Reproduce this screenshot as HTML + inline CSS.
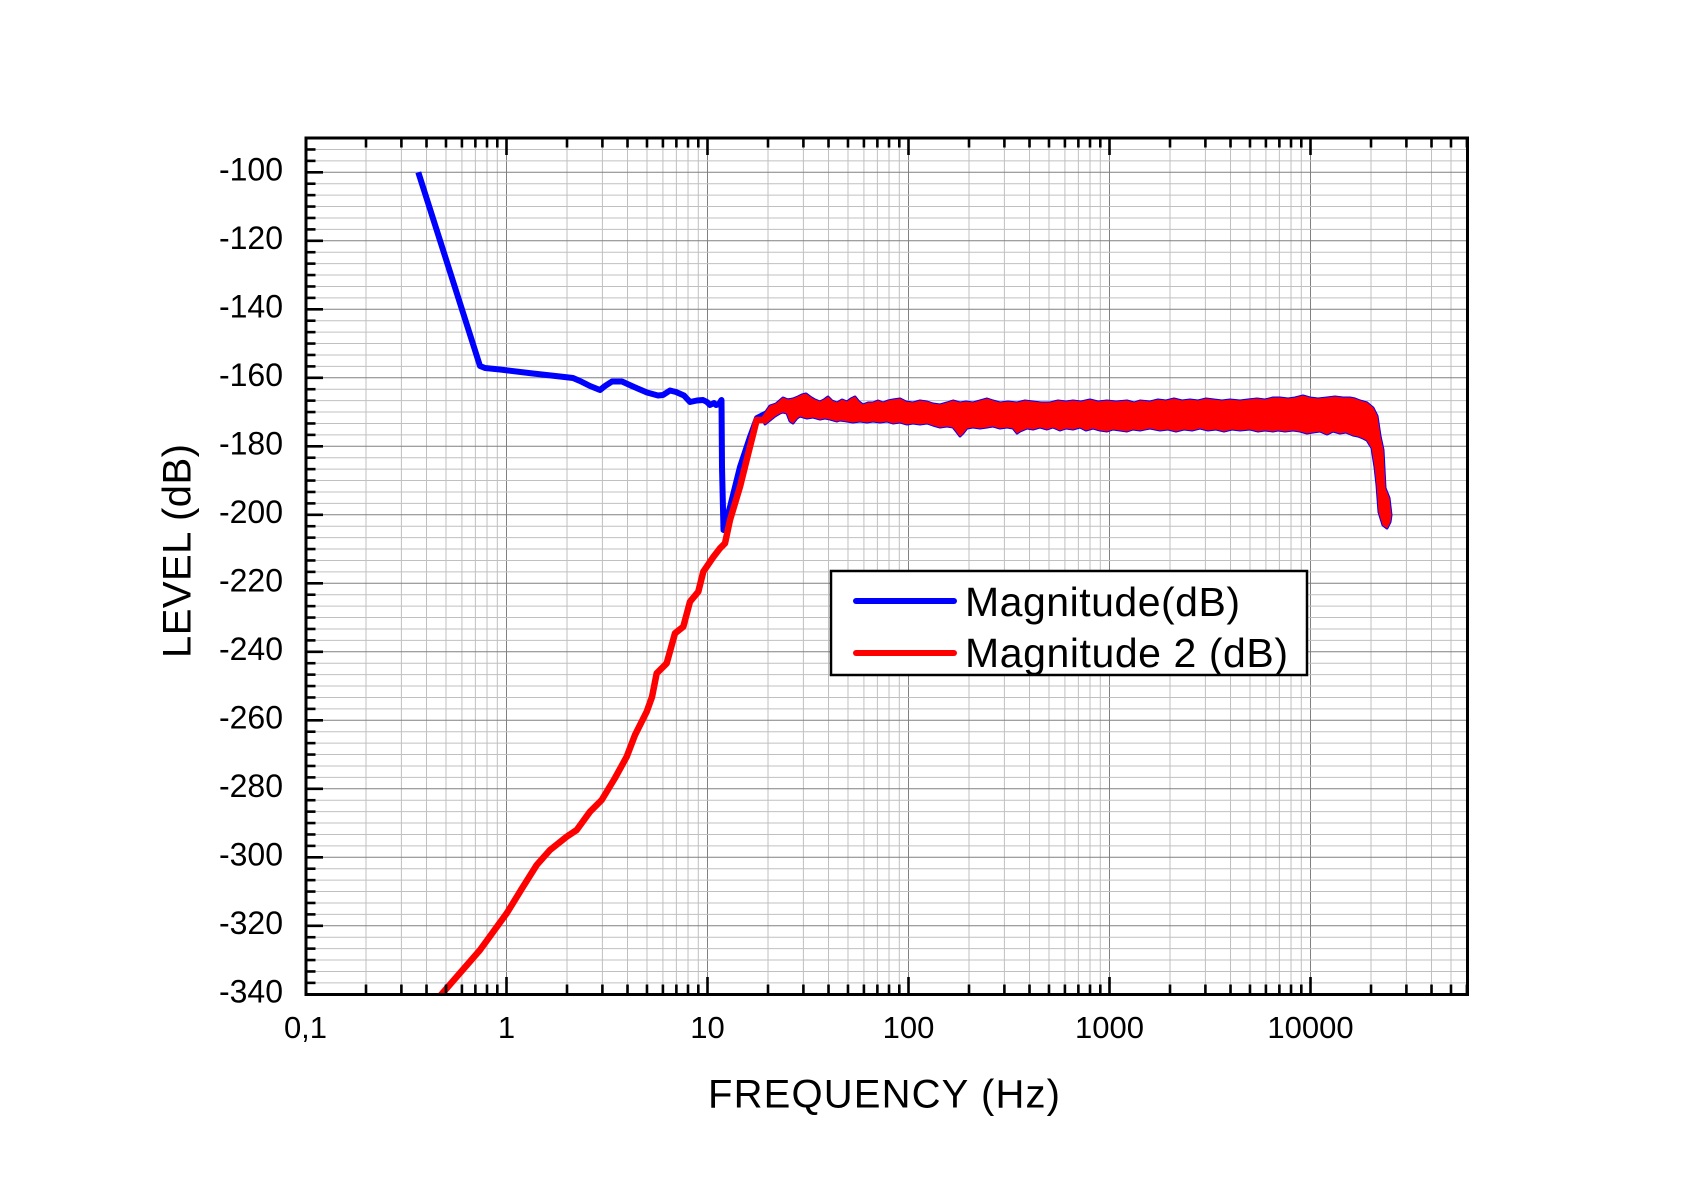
<!DOCTYPE html>
<html>
<head>
<meta charset="utf-8">
<style>
html,body{margin:0;padding:0;background:#fff;}
svg{display:block;}
text{font-family:"Liberation Sans",Arial,sans-serif;fill:#000;}
</style>
</head>
<body>
<svg width="1703" height="1192" viewBox="0 0 1703 1192" xmlns="http://www.w3.org/2000/svg">
<defs>
  <clipPath id="plot"><rect x="306" y="138" width="1161" height="856.5"/></clipPath>
  <g id="vd">
    <g stroke="#c0c0c0" stroke-width="1">
      <line x1="60.51" y1="138" x2="60.51" y2="994"/>
      <line x1="95.90" y1="138" x2="95.90" y2="994"/>
      <line x1="121.01" y1="138" x2="121.01" y2="994"/>
      <line x1="140.49" y1="138" x2="140.49" y2="994"/>
      <line x1="156.41" y1="138" x2="156.41" y2="994"/>
      <line x1="169.87" y1="138" x2="169.87" y2="994"/>
      <line x1="181.52" y1="138" x2="181.52" y2="994"/>
      <line x1="191.80" y1="138" x2="191.80" y2="994"/>
    </g>
    <line x1="0" y1="138" x2="0" y2="994" stroke="#808080" stroke-width="1"/>
  </g>
  <g id="hd">
    <g stroke="#c0c0c0" stroke-width="1">
      <line x1="306" y1="11.417" x2="1467" y2="11.417"/>
      <line x1="306" y1="22.833" x2="1467" y2="22.833"/>
      <line x1="306" y1="34.25" x2="1467" y2="34.25"/>
      <line x1="306" y1="45.667" x2="1467" y2="45.667"/>
      <line x1="306" y1="57.083" x2="1467" y2="57.083"/>
    </g>
    <line x1="306" y1="0" x2="1467" y2="0" stroke="#808080" stroke-width="1"/>
  </g>
  <g id="vt" stroke="#000" stroke-width="2.6">
    <line x1="0" y1="0" x2="0" y2="17"/>
    <line x1="60.51" y1="0" x2="60.51" y2="9.5"/>
    <line x1="95.90" y1="0" x2="95.90" y2="9.5"/>
    <line x1="121.01" y1="0" x2="121.01" y2="9.5"/>
    <line x1="140.49" y1="0" x2="140.49" y2="9.5"/>
    <line x1="156.41" y1="0" x2="156.41" y2="9.5"/>
    <line x1="169.87" y1="0" x2="169.87" y2="9.5"/>
    <line x1="181.52" y1="0" x2="181.52" y2="9.5"/>
    <line x1="191.80" y1="0" x2="191.80" y2="9.5"/>
  </g>
  <g id="ht" stroke="#000" stroke-width="2.6">
    <line x1="0" y1="0" x2="17" y2="0"/>
    <line x1="0" y1="11.417" x2="9.5" y2="11.417"/>
    <line x1="0" y1="22.833" x2="9.5" y2="22.833"/>
    <line x1="0" y1="34.25" x2="9.5" y2="34.25"/>
    <line x1="0" y1="45.667" x2="9.5" y2="45.667"/>
    <line x1="0" y1="57.083" x2="9.5" y2="57.083"/>
  </g>
</defs>

<rect x="0" y="0" width="1703" height="1192" fill="#fff"/>

<!-- grid -->
<g clip-path="url(#plot)">
  <use href="#vd" x="305.5" y="0"/>
  <use href="#vd" x="506.5" y="0"/>
  <use href="#vd" x="707.5" y="0"/>
  <use href="#vd" x="908.5" y="0"/>
  <use href="#vd" x="1109.5" y="0"/>
  <use href="#vd" x="1310.5" y="0"/>
  <line x1="306" y1="160.88" x2="1467" y2="160.88" stroke="#c0c0c0" stroke-width="1"/>
  <line x1="306" y1="149.47" x2="1467" y2="149.47" stroke="#c0c0c0" stroke-width="1"/>
  <use href="#hd" x="0" y="172.3"/>
  <use href="#hd" x="0" y="240.8"/>
  <use href="#hd" x="0" y="309.3"/>
  <use href="#hd" x="0" y="377.8"/>
  <use href="#hd" x="0" y="446.3"/>
  <use href="#hd" x="0" y="514.8"/>
  <use href="#hd" x="0" y="583.3"/>
  <use href="#hd" x="0" y="651.8"/>
  <use href="#hd" x="0" y="720.3"/>
  <use href="#hd" x="0" y="788.8"/>
  <use href="#hd" x="0" y="857.3"/>
  <use href="#hd" x="0" y="925.8"/>
</g>

<!-- curves -->
<g clip-path="url(#plot)">
  <!-- blue band (underlay) -->
  <polygon fill="#0000ff" stroke="#0000ff" stroke-width="3" stroke-linejoin="round" points="763,416 770,406 776,404 783,398 788,400 793,399 798,397 802,395 806,394 810,397 815,400 820,402 824,400 828,397 832,401 837,403 842,400 847,402 851,399 855,397 859,402 863,405 868,403 873,403 878,401 883,403 888,401 893,400 900,399 906,402 913,403 920,401 927,402 933,404 940,405 947,403 953,401 960,403 966,402 973,403 980,401 987,399 993,401 1000,403 1008,402 1017,403 1025,401 1033,402 1041,403 1050,403 1058,401 1066,402 1073,401 1081,402 1090,400 1098,402 1107,401 1116,402 1127,401 1134,403 1140,401 1150,402 1158,400 1166,401 1174,399 1182,401 1190,400 1198,401 1206,399 1214,400 1222,401 1230,400 1240,401 1248,400 1257,399 1265,400 1273,398 1280,398 1288,399 1295,398 1303,396 1310,398 1318,399 1327,398 1335,397 1343,398 1350,398 1355,399 1360,401 1367,403 1373,408 1377,416 1380,436 1383,450 1385,488 1389,498 1391,515 1390,522 1387,528 1383,525 1379,512 1377,485 1375,467 1372,448 1367,440 1363,438 1358,436 1353,435 1346,432 1340,433 1333,431 1327,434 1320,431 1313,432 1307,433 1300,431 1293,430 1285,431 1278,430 1273,431 1265,430 1258,431 1250,429 1240,430 1232,429 1224,431 1216,429 1208,430 1200,428 1192,430 1184,429 1176,431 1168,429 1160,430 1150,428 1140,430 1133,429 1127,431 1120,430 1113,429 1107,431 1100,430 1093,428 1086,430 1080,427 1073,429 1066,428 1060,430 1053,427 1047,429 1040,427 1033,429 1027,428 1020,431 1017,433 1013,428 1007,427 1000,428 993,426 987,427 980,428 973,427 967,428 963,433 960,436 957,432 953,427 947,426 940,427 933,425 927,423 920,424 913,423 907,424 900,422 893,423 887,421 880,422 873,421 867,422 860,421 853,422 847,421 840,420 837,421 830,419 825,418 820,419 813,417 807,418 800,416 797,418 793,423 790,421 787,413 783,412 780,413 775,416 770,420 765,424"/>
  <!-- blue line -->
  <polyline fill="none" stroke="#0000ff" stroke-width="6" stroke-linejoin="round" stroke-linecap="butt" points="418.3,172.3 480,366 485,368 500,369.5 533,373.5 560,376.5 573,378 580,381 590,386 600,390 605,386 612,381.5 622,381.5 633,386.5 647,392.5 658,395.5 663,395 670,390.5 676,392 684,395.5 690,402 697,400.5 703,400 707,402 710,405 714,403 716,405 719,404 721.5,400 722,467 723.5,530 730,507 740,467 750,437 757,418 767,413 783,402 800,400"/>
  <!-- red line -->
  <polyline fill="none" stroke="#ff0000" stroke-width="6.5" stroke-linejoin="round" points="440,996 480,950 506.7,913.3 521,890 536.7,865 550,850 566.7,836.7 576.7,830 590,811.7 601.7,800 615,778 626.7,756.7 635,735 646.7,711.7 652,697 656.7,673.3 666.7,663.3 675,633.3 683.3,626.7 690,601.7 698.3,591.7 703.3,571.7 713.3,557 720,548.3 725,543.3 730,520 740,486.7 748.3,453.3 756.7,420 763.3,420 773.3,408.3 783.3,403.3 793,414 800,400"/>
  <!-- red band -->
  <polygon fill="#ff0000" stroke="#ff0000" stroke-width="1" stroke-linejoin="round" points="763,416 770,406 776,404 783,398 788,400 793,399 798,397 802,395 806,394 810,397 815,400 820,402 824,400 828,397 832,401 837,403 842,400 847,402 851,399 855,397 859,402 863,405 868,403 873,403 878,401 883,403 888,401 893,400 900,399 906,402 913,403 920,401 927,402 933,404 940,405 947,403 953,401 960,403 966,402 973,403 980,401 987,399 993,401 1000,403 1008,402 1017,403 1025,401 1033,402 1041,403 1050,403 1058,401 1066,402 1073,401 1081,402 1090,400 1098,402 1107,401 1116,402 1127,401 1134,403 1140,401 1150,402 1158,400 1166,401 1174,399 1182,401 1190,400 1198,401 1206,399 1214,400 1222,401 1230,400 1240,401 1248,400 1257,399 1265,400 1273,398 1280,398 1288,399 1295,398 1303,396 1310,398 1318,399 1327,398 1335,397 1343,398 1350,398 1355,399 1360,401 1367,403 1373,408 1377,416 1380,436 1383,450 1385,488 1389,498 1391,515 1390,522 1387,528 1383,525 1379,512 1377,485 1375,467 1372,448 1367,440 1363,438 1358,436 1353,435 1346,432 1340,433 1333,431 1327,434 1320,431 1313,432 1307,433 1300,431 1293,430 1285,431 1278,430 1273,431 1265,430 1258,431 1250,429 1240,430 1232,429 1224,431 1216,429 1208,430 1200,428 1192,430 1184,429 1176,431 1168,429 1160,430 1150,428 1140,430 1133,429 1127,431 1120,430 1113,429 1107,431 1100,430 1093,428 1086,430 1080,427 1073,429 1066,428 1060,430 1053,427 1047,429 1040,427 1033,429 1027,428 1020,431 1017,433 1013,428 1007,427 1000,428 993,426 987,427 980,428 973,427 967,428 963,433 960,436 957,432 953,427 947,426 940,427 933,425 927,423 920,424 913,423 907,424 900,422 893,423 887,421 880,422 873,421 867,422 860,421 853,422 847,421 840,420 837,421 830,419 825,418 820,419 813,417 807,418 800,416 797,418 793,423 790,421 787,413 783,412 780,413 775,416 770,420 765,424"/>
</g>

<!-- ticks -->
<g clip-path="url(#plot)">
  <use href="#vt" transform="translate(305.5,138)"/>
  <use href="#vt" transform="translate(506.5,138)"/>
  <use href="#vt" transform="translate(707.5,138)"/>
  <use href="#vt" transform="translate(908.5,138)"/>
  <use href="#vt" transform="translate(1109.5,138)"/>
  <use href="#vt" transform="translate(1310.5,138)"/>
  <use href="#vt" transform="translate(305.5,994) scale(1,-1)"/>
  <use href="#vt" transform="translate(506.5,994) scale(1,-1)"/>
  <use href="#vt" transform="translate(707.5,994) scale(1,-1)"/>
  <use href="#vt" transform="translate(908.5,994) scale(1,-1)"/>
  <use href="#vt" transform="translate(1109.5,994) scale(1,-1)"/>
  <use href="#vt" transform="translate(1310.5,994) scale(1,-1)"/>
  <line x1="306" y1="160.88" x2="315.5" y2="160.88" stroke="#000" stroke-width="2.6"/>
  <line x1="306" y1="149.47" x2="315.5" y2="149.47" stroke="#000" stroke-width="2.6"/>
  <use href="#ht" transform="translate(306,172.3)"/>
  <use href="#ht" transform="translate(306,240.8)"/>
  <use href="#ht" transform="translate(306,309.3)"/>
  <use href="#ht" transform="translate(306,377.8)"/>
  <use href="#ht" transform="translate(306,446.3)"/>
  <use href="#ht" transform="translate(306,514.8)"/>
  <use href="#ht" transform="translate(306,583.3)"/>
  <use href="#ht" transform="translate(306,651.8)"/>
  <use href="#ht" transform="translate(306,720.3)"/>
  <use href="#ht" transform="translate(306,788.8)"/>
  <use href="#ht" transform="translate(306,857.3)"/>
  <use href="#ht" transform="translate(306,925.8)"/>
</g>

<!-- frame -->
<rect x="306" y="138" width="1161.5" height="856.5" fill="none" stroke="#000" stroke-width="3"/>

<!-- y tick labels -->
<g font-size="32" text-anchor="end">
  <text x="283" y="180.3">-100</text>
  <text x="283" y="248.8">-120</text>
  <text x="283" y="317.3">-140</text>
  <text x="283" y="385.8">-160</text>
  <text x="283" y="454.3">-180</text>
  <text x="283" y="522.8">-200</text>
  <text x="283" y="591.3">-220</text>
  <text x="283" y="659.8">-240</text>
  <text x="283" y="728.3">-260</text>
  <text x="283" y="796.8">-280</text>
  <text x="283" y="865.3">-300</text>
  <text x="283" y="933.8">-320</text>
  <text x="283" y="1002.3">-340</text>
</g>

<!-- x tick labels -->
<g font-size="31" text-anchor="middle">
  <text x="305.5" y="1038">0,1</text>
  <text x="506.5" y="1038">1</text>
  <text x="707.5" y="1038">10</text>
  <text x="908.5" y="1038">100</text>
  <text x="1109.5" y="1038">1000</text>
  <text x="1310.5" y="1038">10000</text>
</g>

<!-- axis titles -->
<text x="708" y="1107.7" font-size="40" textLength="352" lengthAdjust="spacing">FREQUENCY (Hz)</text>
<text transform="translate(190.7,658) rotate(-90)" x="0" y="0" font-size="40" textLength="214" lengthAdjust="spacing">LEVEL (dB)</text>

<!-- legend -->
<rect x="831" y="571" width="476" height="104" fill="#fff" stroke="#000" stroke-width="2.5"/>
<line x1="856" y1="601" x2="954" y2="601" stroke="#0000ff" stroke-width="6" stroke-linecap="round"/>
<line x1="856" y1="653" x2="954" y2="653" stroke="#ff0000" stroke-width="6" stroke-linecap="round"/>
<text x="965" y="616" font-size="41" textLength="275" lengthAdjust="spacing">Magnitude(dB)</text>
<text x="965" y="667" font-size="41" textLength="323" lengthAdjust="spacing">Magnitude 2 (dB)</text>
</svg>
</body>
</html>
